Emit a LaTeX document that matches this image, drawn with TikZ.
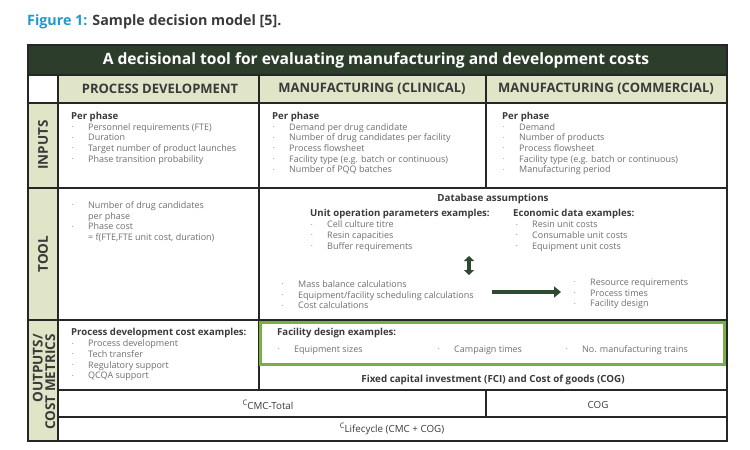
\documentclass[tikz,border=0pt]{standalone}
\usepackage{fontspec}
\setmainfont{Open Sans}
\usetikzlibrary{arrows.meta}
\definecolor{darkgreen}{HTML}{2D3D2B}
\definecolor{palegreen}{HTML}{DFE5C6}
\definecolor{limegreen}{HTML}{78B043}
\definecolor{captionblue}{HTML}{1E9BCB}
\definecolor{headgrey}{HTML}{3A3A3A}
\definecolor{bodygrey}{HTML}{6E6E6E}
\definecolor{arrowgreen}{HTML}{2E4A30}
\newcommand{\itm}{\hspace*{1pt}\makebox[16pt][l]{\raisebox{1.6pt}{\scalebox{0.45}{\textbullet}}}}
\newcommand{\hd}[1]{{\fontsize{9.6}{10.7}\selectfont\bfseries\color{headgrey}#1}}

\tikzset{
	gridline/.style={line width=1.4pt, draw=black!85},
	body/.style={inner sep=0pt, anchor=north west, align=left, text=bodygrey,
		font=\fontsize{9}{10.7}\selectfont},
	colhead/.style={inner sep=0pt, text=headgrey, font=\fontsize{13}{14}\selectfont\bfseries},
	rowhead/.style={inner sep=0pt, rotate=90, text=headgrey, align=right,
		font=\fontsize{13.5}{12.5}\selectfont\bfseries},
	sumcell/.style={inner sep=0pt, text=headgrey, font=\fontsize{9.8}{11}\selectfont\bfseries},
	fatarrow/.style={line width=3.4pt, draw=arrowgreen}
}

\begin{document}
\begin{tikzpicture}[x=1pt, y=-1pt]
	%%%%% START %%%%%
	\useasboundingbox (0,0) rectangle (750,450);
	
	\node[anchor=west, inner sep=0pt, text=headgrey, font=\fontsize{14.3}{16}\selectfont\bfseries] (caption) at (27,22)
		{{\color{captionblue}Figure 1:} Sample decision model [5].};
	
	% fills
	\fill[darkgreen] (28,45) rectangle (727,75);
	\fill[palegreen] (58,75) rectangle (727,103);
	\fill[palegreen] (28,103) rectangle (58,441);
	
	% grid
	\draw[gridline] (28,45) rectangle (727,441);
	\draw[gridline] (28,75) -- (727,75);
	\draw[gridline] (28,103) -- (727,103);
	\draw[gridline] (28,188) -- (727,188);
	\draw[gridline] (28,320) -- (727,320);
	\draw[gridline] (58,390) -- (727,390);
	\draw[gridline] (58,417) -- (727,417);
	\draw[gridline] (58,75) -- (58,441);
	\draw[gridline] (259,75) -- (259,390);
	\draw[gridline] (486,75) -- (486,188);
	\draw[gridline] (486,390) -- (486,417);
	
	\draw[line width=3pt, draw=limegreen] (260.5,322.5) rectangle (724.5,364);
	
	% header
	\node[inner sep=0pt, text=white, font=\fontsize{15.6}{17}\selectfont\bfseries] (title) at (376,60)
		{A decisional tool for evaluating manufacturing and development costs};
	\node[colhead] (pdhead) at (160,89) {PROCESS DEVELOPMENT};
	\node[colhead] (clinhead) at (372,89) {MANUFACTURING (CLINICAL)};
	\node[colhead] (commhead) at (606,89) {MANUFACTURING (COMMERCIAL)};
	
	\node[rowhead] (inputs) at (43,145) {INPUTS};
	\node[rowhead] (tool) at (43,254) {TOOL};
	\node[rowhead] (outputs) at (44,382) {OUTPUTS/\\COST METRICS};
	
	% inputs
	\node[body] (pdin) at (71,112) {\hd{Per phase}\\
		\itm Personnel requirements (FTE)\\
		\itm Duration\\
		\itm Target number of product launches\\
		\itm Phase transition probability};
	\node[body] (clinin) at (272,112) {\hd{Per phase}\\
		\itm Demand per drug candidate\\
		\itm Number of drug candidates per facility\\
		\itm Process flowsheet\\
		\itm Facility type (e.g. batch or continuous)\\
		\itm Number of PQQ batches};
	\node[body] (commin) at (502,112) {\hd{Per phase}\\
		\itm Demand\\
		\itm Number of products\\
		\itm Process flowsheet\\
		\itm Facility type (e.g. batch or continuous)\\
		\itm Manufacturing period};
	
	% tool
	\node[body] (pdtool) at (71,201.5) {\itm Number of drug candidates\\
		\hspace*{17pt}per phase\\
		\itm Phase cost\\
		\hspace*{17pt}= f(FTE,FTE unit cost, duration)};
	\node[sumcell] (db) at (493,199) {Database assumptions};
	\node[body] (unitops) at (310,209.5) {\hd{Unit operation parameters examples:}\\
		\itm Cell culture titre\\
		\itm Resin capacities\\
		\itm Buffer requirements};
	\node[body] (econ) at (513,209.5) {\hd{Economic data examples:}\\
		\hspace*{2pt}\itm Resin unit costs\\
		\hspace*{2pt}\itm Consumable unit costs\\
		\hspace*{2pt}\itm Equipment unit costs};
	\node[body] (calcs) at (281,280.5) {\itm Mass balance calculations\\
		\itm Equipment/facility scheduling calculations\\
		\itm Cost calculations};
	\node[body] (results) at (573,278.5) {\itm Resource requirements\\
		\itm Process times\\
		\itm Facility design};
	
	\coordinate (dbtop) at (469,256);
	\coordinate (dbbot) at (469,275);
	\draw[fatarrow, {Triangle[length=5pt,width=10pt]}-{Triangle[length=5pt,width=10pt]}] (dbtop) -- (dbbot);
	\coordinate (flowin) at (492,292);
	\coordinate (flowout) at (561,292);
	\draw[fatarrow, -{Triangle[length=7pt,width=11pt]}] (flowin) -- (flowout);
	
	% outputs
	\node[body] (pdout) at (71,328.5) {\hd{Process development cost examples:}\\
		\itm Process development\\
		\itm Tech transfer\\
		\itm Regulatory support\\
		\itm QCQA support};
	\node[body] (facility) at (277,328.5) {\hd{Facility design examples:}};
	\node[body, anchor=west] (sizes) at (277,350) {\itm Equipment sizes};
	\node[body, anchor=west] (campaign) at (437,350) {\itm Campaign times};
	\node[body, anchor=west] (trains) at (565,350) {\itm No. manufacturing trains};
	
	\node[sumcell] (fci) at (493,380) {Fixed capital investment (FCI) and Cost of goods (COG)};
	\node[sumcell, font=\fontsize{9.8}{11}\selectfont] (cmc) at (268,405) {\raisebox{3.5pt}{\fontsize{7.5}{8}\selectfont C}CMC-Total};
	\node[sumcell, font=\fontsize{9.8}{11}\selectfont] (cog) at (598,405) {COG};
	\node[sumcell, font=\fontsize{9.8}{11}\selectfont] (lifecycle) at (392,429) {\raisebox{3.5pt}{\fontsize{7.5}{8}\selectfont C}Lifecycle (CMC + COG)};
	
	%%%%% END %%%%%
\end{tikzpicture}
\end{document}
